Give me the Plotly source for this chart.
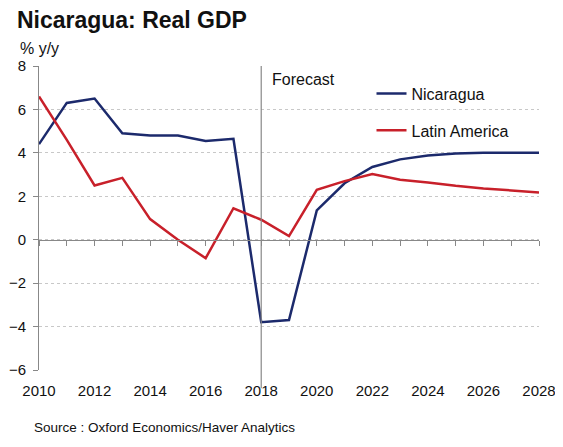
import plotly.graph_objects as go

years = list(range(2010, 2029))
nicaragua = [4.4, 6.3, 6.5, 4.9, 4.8, 4.8, 4.55, 4.65, -3.8, -3.7, 1.35, 2.6, 3.35, 3.7, 3.88, 3.97, 4.0, 4.0, 4.0]
latam = [6.6, 4.6, 2.5, 2.85, 0.95, 0.0, -0.85, 1.45, 0.92, 0.17, 2.3, 2.7, 3.02, 2.76, 2.64, 2.48, 2.36, 2.27, 2.18]
x_ticks = list(range(2010, 2029, 2))
y_ticks = list(range(-6, 9, 2))
forecast_year = 2018
y_min, y_max = -6, 8

navy = "#1c2a6c"
red = "#c8202a"
font_family = "Liberation Sans, Arial, sans-serif"

fig = go.Figure()
fig.add_trace(go.Scatter(x=years, y=nicaragua, name="Nicaragua", mode="lines",
                         line=dict(color=navy, width=2.5), legendgroup="a"))
fig.add_trace(go.Scatter(x=years, y=latam, name="Latin America", mode="lines",
                         line=dict(color=red, width=2.5), legendgroup="b"))
# invisible trace to carry the zero-line axis with ticks
fig.add_trace(go.Scatter(x=years, y=[None]*len(years), xaxis="x2", showlegend=False, hoverinfo="skip"))

zero_pos = (0 - y_min) / (y_max - y_min)

fig.update_layout(
    width=555, height=439,
    margin=dict(l=31, r=24, t=58, b=77, autoexpand=False),
    paper_bgcolor="white", plot_bgcolor="white",
    font=dict(family=font_family, color="#111111", size=15),
    title=dict(text="<b>Nicaragua: Real GDP</b>", x=0.016, xanchor="left",
               y=0.973, yanchor="middle", font=dict(size=23, color="#111111")),
    xaxis=dict(range=[2010, 2028], tickvals=x_ticks, ticktext=[str(t) for t in x_ticks],
               showgrid=False, zeroline=False, showline=False, ticks="", automargin=False,
               ticklabelstandoff=10, tickfont=dict(size=15)),
    xaxis2=dict(range=[2010, 2028], overlaying="x", anchor="free", position=zero_pos,
                tickvals=years, showticklabels=False, ticks="outside", ticklen=5,
                tickcolor="#888888", showline=True, linecolor="#888888", linewidth=1,
                showgrid=False, zeroline=False, automargin=False),
    yaxis=dict(range=[y_min, y_max], tickvals=y_ticks, showgrid=True, gridcolor="#c8c8c8",
               griddash="dot", gridwidth=1, zeroline=False, showline=True, automargin=False,
               linecolor="#888888", linewidth=1, ticks="outside", ticklen=5,
               tickcolor="#888888", tickfont=dict(size=15), ticklabelstandoff=4),
    legend=dict(x=0.665, y=0.965, xanchor="left", yanchor="top", bgcolor="rgba(0,0,0,0)",
                font=dict(size=16), tracegroupgap=13, itemwidth=30),
    showlegend=True,
)

fig.add_shape(type="line", xref="x", yref="paper", x0=forecast_year, x1=forecast_year,
              y0=-0.06, y1=1, line=dict(color="#888888", width=1.2))
fig.add_annotation(text="Forecast", xref="x", yref="paper", x=forecast_year, y=0.99,
                   xanchor="left", yanchor="top", xshift=9, showarrow=False,
                   font=dict(size=16, color="#111111"))
fig.add_annotation(text="% y/y", xref="paper", yref="paper", x=-0.043, y=1.022,
                   xanchor="left", yanchor="bottom", showarrow=False,
                   font=dict(size=16, color="#111111"))
fig.add_annotation(text="Source : Oxford Economics/Haver Analytics", xref="paper", yref="paper",
                   x=-0.014, y=-0.19, xanchor="left", yanchor="middle", showarrow=False,
                   font=dict(size=13.5, color="#111111"))

fig.write_html("out.html")
